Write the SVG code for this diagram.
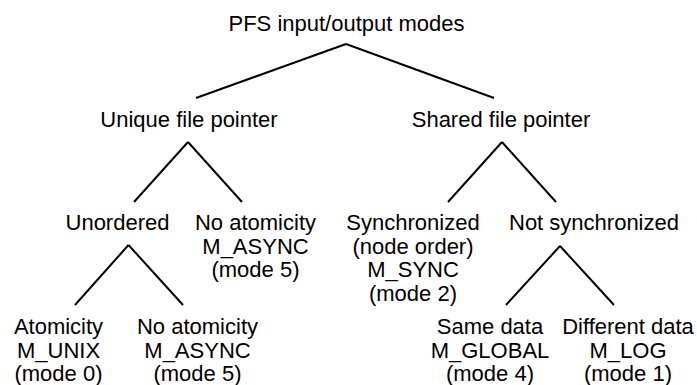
<svg xmlns="http://www.w3.org/2000/svg" width="697" height="385" viewBox="0 0 697 385">
<style>
text{font-family:"Liberation Sans",Arial,Helvetica,sans-serif;font-size:22px;fill:#000;text-anchor:middle}
.c line{stroke:#000;stroke-width:2;stroke-linecap:butt}
</style>
<rect width="697" height="385" fill="#fff"/>
<g class="c" id="connectors">
<line x1="346" y1="44" x2="196" y2="98"/>
<line x1="346" y1="44" x2="494" y2="98"/>
<line x1="188" y1="142" x2="134" y2="202"/>
<line x1="188" y1="142" x2="242" y2="202"/>
<line x1="502" y1="142" x2="448" y2="202"/>
<line x1="502" y1="142" x2="556" y2="202"/>
<line x1="128.5" y1="245" x2="75" y2="305"/>
<line x1="128.5" y1="245" x2="183" y2="305"/>
<line x1="560" y1="246" x2="506" y2="305"/>
<line x1="560" y1="246" x2="614" y2="305"/>
</g>
<g id="root"><text x="346.5" y="30.5">PFS input/output modes</text></g>
<g id="unique"><text x="189" y="126.5">Unique file pointer</text></g>
<g id="shared"><text x="501" y="126.5">Shared file pointer</text></g>
<g id="unordered"><text x="117.5" y="230">Unordered</text></g>
<g id="noatom1"><text x="255.5" y="230">No atomicity</text><text x="255.5" y="253.5">M_ASYNC</text><text x="255.5" y="277">(mode 5)</text></g>
<g id="sync"><text x="413" y="230">Synchronized</text><text x="413" y="253.5">(node order)</text><text x="413" y="277">M_SYNC</text><text x="413" y="300.5">(mode 2)</text></g>
<g id="notsync"><text x="594" y="230">Not synchronized</text></g>
<g id="atom"><text x="58.5" y="334">Atomicity</text><text x="58.5" y="357.5">M_UNIX</text><text x="58.5" y="381">(mode 0)</text></g>
<g id="noatom2"><text x="197.5" y="334">No atomicity</text><text x="197.5" y="357.5">M_ASYNC</text><text x="197.5" y="381">(mode 5)</text></g>
<g id="same"><text x="490" y="334">Same data</text><text x="490" y="357.5">M_GLOBAL</text><text x="490" y="381">(mode 4)</text></g>
<g id="diff"><text x="628" y="334">Different data</text><text x="628" y="357.5">M_LOG</text><text x="628" y="381">(mode 1)</text></g>
</svg>
